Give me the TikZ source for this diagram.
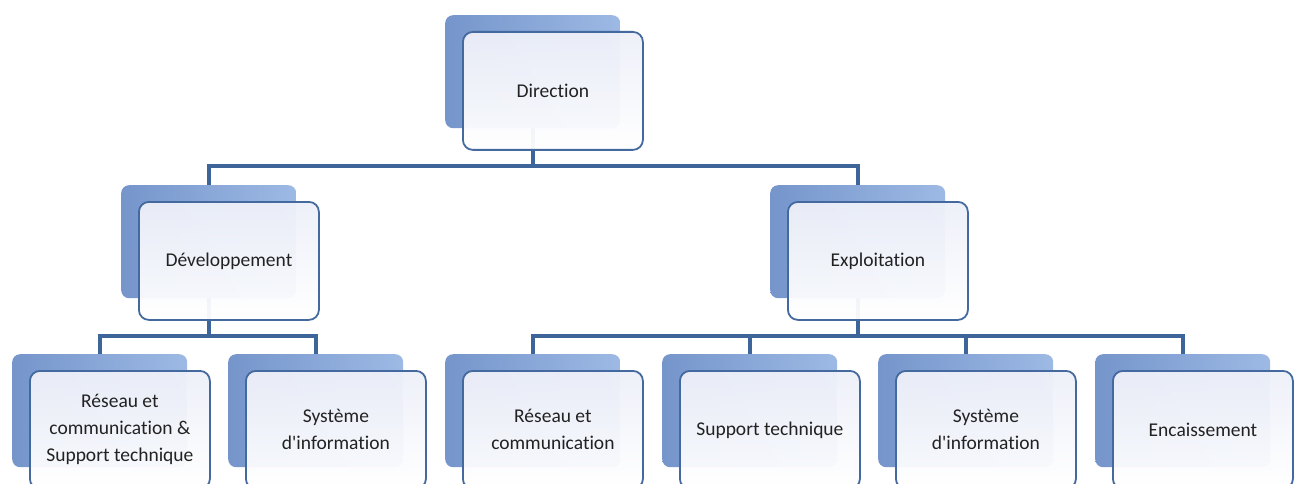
\documentclass[tikz,border=0pt]{standalone}
\usepackage{fontspec}
\setmainfont{Carlito}[Ligatures={TeX,NoCommon}]
\pgfdeclarelayer{background}
\pgfsetlayers{background,main}
\definecolor{conn}{HTML}{3D6599}
\definecolor{frameblue}{HTML}{44699E}
\definecolor{backL}{HTML}{7595CB}
\definecolor{backR}{HTML}{9DB9E4}
\definecolor{frontT}{HTML}{EEF0F9}
\definecolor{txt}{HTML}{222222}
\tikzset{
  backbox/.style={rounded corners=8pt, left color=backL, right color=backR,
    minimum width=175pt, minimum height=113pt, inner sep=0pt, anchor=north west},
  frontbox/.style={rounded corners=10pt, draw=frameblue, line width=1.8pt,
    top color=frontT, bottom color=white, fill opacity=0.95, text opacity=1,
    minimum width=180pt, minimum height=118pt, inner sep=0pt, align=center,
    text=txt, font=\fontsize{19.5}{27}\selectfont},
  connector/.style={draw=conn, line width=4pt}
}
\newcommand{\orgbox}[4]{%
  \node[backbox] (#1-b) at (#2,#3) {};
  \node[frontbox, anchor=north west] (#1) at (#2+17,#3+16) {#4};
}
\begin{document}
\begin{tikzpicture}[x=1pt,y=-1pt]
\useasboundingbox (0,0) rectangle (1296,484);
\clip (0,0) rectangle (1296,484);
\orgbox{dir}{445}{15}{Direction}
\orgbox{dev}{121}{185}{Développement}
\orgbox{exp}{770}{185}{Exploitation}
\orgbox{c1}{12}{354}{Réseau et\\communication \&\\Support technique}
\orgbox{c2}{228}{354}{Système\\d\textquotesingle information}
\orgbox{c3}{445}{354}{Réseau et\\communication}
\orgbox{c4}{662}{354}{Support technique}
\orgbox{c5}{878}{354}{Système\\d\textquotesingle information}
\orgbox{c6}{1095}{354}{Encaissement}
\coordinate (bus1) at (0,166);
\coordinate (bus2) at (0,336);
\begin{pgfonlayer}{background}
\fill[white] (0,0) rectangle (1296,484);
\draw[connector] (dir-b.center) -- (dir-b.center |- bus1);
\draw[connector] (dev-b.north) |- (exp-b.north |- bus1) -- (exp-b.north);
\draw[connector] (dev-b.center) -- (dev-b.center |- bus2);
\draw[connector] (c1-b.north) |- (c2-b.north |- bus2) -- (c2-b.north);
\draw[connector] (exp-b.center) -- (exp-b.center |- bus2);
\draw[connector] (c3-b.north) |- (c6-b.north |- bus2) -- (c6-b.north);
\draw[connector] (c4-b.north) -- (c4-b.north |- bus2);
\draw[connector] (c5-b.north) -- (c5-b.north |- bus2);
\end{pgfonlayer}
\end{tikzpicture}
\end{document}
